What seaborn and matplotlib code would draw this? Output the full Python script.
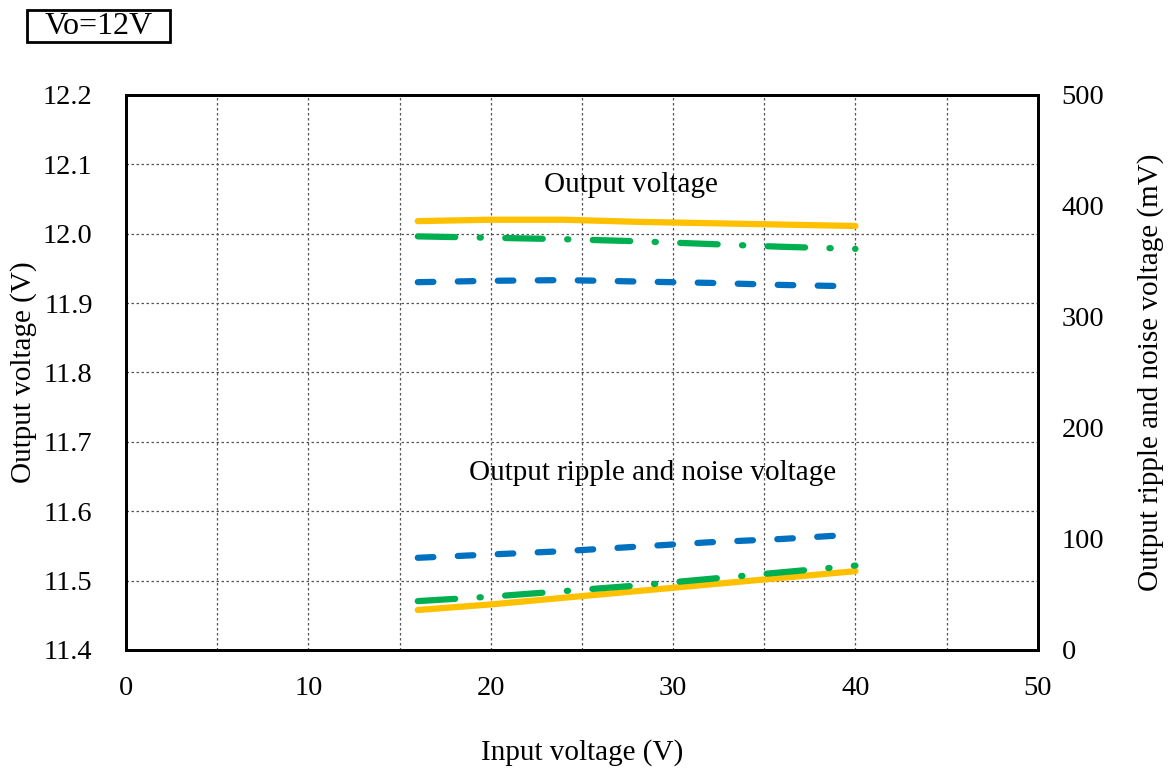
import seaborn as sns
import matplotlib.pyplot as plt
from matplotlib.patches import Rectangle
from matplotlib.ticker import MultipleLocator, FormatStrFormatter

vin = [16, 20, 24, 28, 32, 36, 40]

# output voltage (V), left axis
vout_orange = [12.018, 12.020, 12.020, 12.017, 12.015, 12.013, 12.011]
vout_green = [11.996, 11.994, 11.992, 11.989, 11.985, 11.981, 11.978]
vout_blue = [11.930, 11.932, 11.933, 11.931, 11.929, 11.926, 11.924]

# ripple and noise (mV), right axis
rn_orange = [36, 41, 47, 53, 59, 65, 71]
rn_green = [44, 48, 53, 58, 64, 70, 76]
rn_blue = [83, 86, 89, 93, 97, 100, 104]

ORANGE = '#FFC000'
GREEN = '#00B050'
BLUE = '#0070C0'

sns.set_style('white')
plt.rcParams['font.family'] = ['Liberation Serif', 'DejaVu Serif']
for k in ('text.color', 'axes.labelcolor', 'xtick.color', 'ytick.color'):
    plt.rcParams[k] = 'black'

fig = plt.figure(figsize=(11.72, 7.71), dpi=100)
ax = fig.add_axes([0.1075, 0.157, 0.778, 0.72])
ax2 = ax.twinx()

lw = 4.5
styles = {
    ORANGE: None,
    GREEN: [6.0, 3.9, 0.2, 3.9],
    BLUE: [2.5, 3.9],
}

def draw(axis, y, color):
    sns.lineplot(x=vin, y=y, ax=axis, color=color, linewidth=lw)
    line = axis.lines[-1]
    line.set_solid_capstyle('round')
    line.set_dash_capstyle('round')
    if styles[color] is not None:
        line.set_dashes(styles[color])

draw(ax, vout_orange, ORANGE)
draw(ax, vout_green, GREEN)
draw(ax, vout_blue, BLUE)
draw(ax2, rn_orange, ORANGE)
draw(ax2, rn_green, GREEN)
draw(ax2, rn_blue, BLUE)

ax.set_xlim(0, 50)
ax.set_ylim(11.4, 12.2)
ax2.set_ylim(0, 500)
ax.xaxis.set_major_locator(MultipleLocator(10))
ax.xaxis.set_minor_locator(MultipleLocator(5))
ax.yaxis.set_major_locator(MultipleLocator(0.1))
ax.yaxis.set_major_formatter(FormatStrFormatter('%.1f'))
ax2.yaxis.set_major_locator(MultipleLocator(100))

ax.grid(True, which='both', axis='x', linestyle=(0, (2, 2)), color='#555555', linewidth=0.9)
ax.grid(True, which='major', axis='y', linestyle=(0, (2, 2)), color='#555555', linewidth=0.9)
ax.set_axisbelow(True)

ax.tick_params(which='both', length=0, labelsize=20.5)
ax.tick_params(axis='x', pad=19)
ax.tick_params(axis='y', pad=24)
ax2.tick_params(length=0, labelsize=20.5, pad=17)

for a in (ax, ax2):
    for s in a.spines.values():
        s.set_visible(True)
        s.set_color('black')
        s.set_linewidth(2)

ax.set_xlabel('Input voltage (V)', fontsize=21, labelpad=27)
ax.set_ylabel('Output voltage (V)', fontsize=21, labelpad=4)
ax2.set_ylabel('Output ripple and noise voltage (mV)', fontsize=21, labelpad=24)

ax.text(27.7, 12.070, 'Output voltage', fontsize=21, ha='center', va='center')
ax.text(28.9, 11.655, 'Output ripple and noise voltage', fontsize=21, ha='center', va='center')

fig.add_artist(Rectangle((27 / 1172, 1 - 42 / 771), 143 / 1172, 32 / 771,
                         transform=fig.transFigure, facecolor='white',
                         edgecolor='black', linewidth=2))
fig.text(98.5 / 1172, 1 - 26 / 771, 'Vo=12V', fontsize=23, ha='center', va='center')

fig.savefig('out.png', dpi=100)
